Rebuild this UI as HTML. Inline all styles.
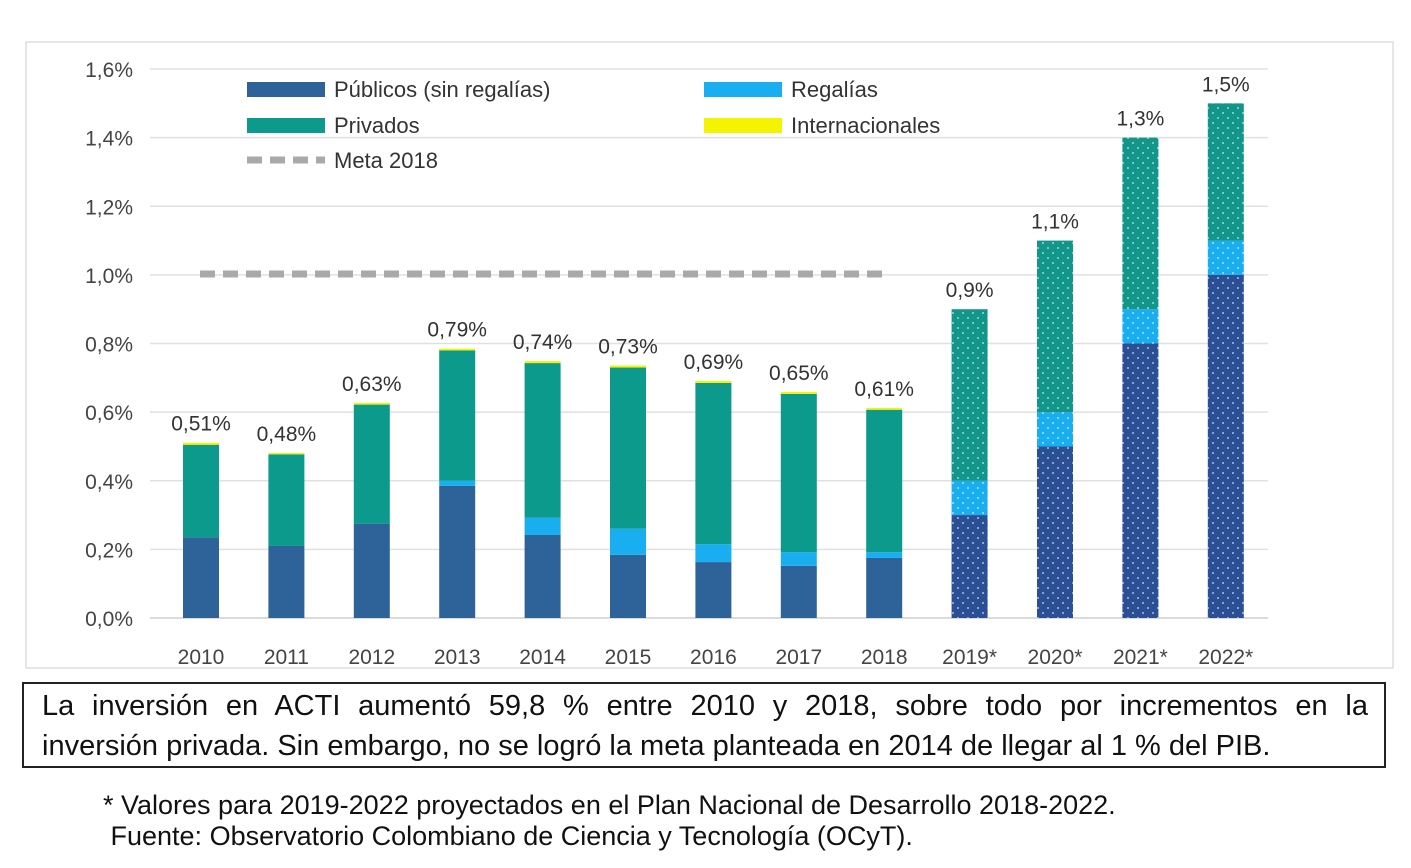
<!DOCTYPE html>
<html><head><meta charset="utf-8"><style>
body{margin:0;background:#fff;width:1411px;height:868px;overflow:hidden;font-family:"Liberation Sans",sans-serif}
svg text{font-family:"Liberation Sans",sans-serif}
.box{position:absolute;left:22px;top:682px;width:1364px;height:86px;border:2px solid #222;box-sizing:border-box;font-size:29px;line-height:40px;padding:2px 16px 0 18px;color:#111;white-space:nowrap}
.box .l1{text-align:justify;text-align-last:justify;white-space:normal}
.foot{position:absolute;left:103px;top:790px;font-size:27px;line-height:31px;color:#111;white-space:nowrap}
</style></head><body>
<svg id="chart" width="1411" height="868" style="position:absolute;left:0;top:0">
<defs><pattern id="dots" width="10" height="10" patternUnits="userSpaceOnUse"><circle cx="3" cy="3" r="0.9" fill="#fff" opacity="0.8"/><circle cx="8" cy="8" r="0.9" fill="#fff" opacity="0.8"/></pattern></defs>
<rect x="26" y="42" width="1367" height="626" fill="none" stroke="#ddd" stroke-width="1.5"/>
<g id="grid"></g><g id="bars"></g><g id="labels"></g>
<line x1="200" y1="274" x2="888" y2="274" stroke="#a9a9a9" stroke-width="7" stroke-dasharray="15,8"/>
<g font-size="22" fill="#333">
<rect x="247" y="82" width="78" height="15" fill="#2e6399"/>
<text x="334" y="97">Públicos (sin regalías)</text>
<rect x="704" y="82" width="78" height="15" fill="#19aef0"/>
<text x="791" y="97">Regalías</text>
<rect x="247" y="118" width="78" height="15" fill="#0c9a8c"/>
<text x="334" y="133">Privados</text>
<rect x="704" y="118" width="78" height="15" fill="#f4f400"/>
<text x="791" y="133">Internacionales</text>
<line x1="247" y1="160" x2="325" y2="160" stroke="#a9a9a9" stroke-width="7" stroke-dasharray="15,8"/>
<text x="334" y="168">Meta 2018</text>
</g>
</svg>
<div class="box"><div class="l1">La inversión en ACTI aumentó 59,8 % entre 2010 y 2018, sobre todo por incrementos en la</div><div>inversión privada. Sin embargo, no se logró la meta planteada en 2014 de llegar al 1 % del PIB.</div></div>
<div class="foot">* Valores para 2019-2022 proyectados en el Plan Nacional de Desarrollo 2018-2022.<br>&nbsp;Fuente: Observatorio Colombiano de Ciencia y Tecnología (OCyT).</div>
<script>
const years=["2010","2011","2012","2013","2014","2015","2016","2017","2018","2019*","2020*","2021*","2022*"];
const publicos=[0.235,0.21,0.275,0.385,0.242,0.184,0.163,0.152,0.175,0.3,0.5,0.8,1.0];
const regalias=[0,0,0,0.015,0.05,0.076,0.052,0.04,0.017,0.1,0.1,0.1,0.1];
const privados=[0.27,0.267,0.347,0.38,0.451,0.47,0.47,0.461,0.415,0.5,0.5,0.5,0.4];
const internacionales=[0.006,0.004,0.005,0.005,0.006,0.006,0.006,0.006,0.005,0,0,0,0];
const totals=["0,51%","0,48%","0,63%","0,79%","0,74%","0,73%","0,69%","0,65%","0,61%","0,9%","1,1%","1,3%","1,5%"];
const ticks=[0,0.2,0.4,0.6,0.8,1.0,1.2,1.4,1.6];
const tickLabels=["0,0%","0,2%","0,4%","0,6%","0,8%","1,0%","1,2%","1,4%","1,6%"];
const NS="http://www.w3.org/2000/svg";
const y=v=>618-v*343.1;
const x=i=>201+i*85.4;
function mk(tag,attrs,parent){const e=document.createElementNS(NS,tag);for(const k in attrs)e.setAttribute(k,attrs[k]);parent.appendChild(e);return e;}
const grid=document.getElementById('grid'),bars=document.getElementById('bars'),labels=document.getElementById('labels');
ticks.forEach((t,i)=>{
  const l=mk('line',{x1:150,x2:1268,y1:y(t),y2:y(t),stroke:i==0?'#cfcfcf':'#e0e0e0','stroke-width':1.5},grid);
  
  
  const tx=mk('text',{x:133,y:y(t)+8,'text-anchor':'end','font-size':21,fill:'#444'},grid);
  tx.textContent=tickLabels[i];
  
  
});
const series=[[publicos,'#2e6399','#2a4f95','publicos'],[regalias,'#19aef0','#19aef0','regalias'],[privados,'#0c9a8c','#13968a','privados'],[internacionales,'#f4f400','#f4f400','internacionales']];
years.forEach((yr,i)=>{
  const proj=yr.includes('*');
  let base=0;
  series.forEach(s=>{
    const v=s[0][i];if(v<=0)return;
    const r=mk('rect',{x:x(i)-18,width:36,y:y(base+v),height:y(base)-y(base+v),fill:proj?s[2]:s[1]},bars);
    
    
    if(proj){const p=mk('rect',{x:x(i)-18,width:36,y:y(base+v),height:y(base)-y(base+v),fill:'url(#dots)'},bars);
      
      }
    base+=v;
  });
  const t=mk('text',{x:x(i),y:y(base)-12,'text-anchor':'middle','font-size':21,fill:'#333'},labels);
  t.textContent=totals[i];
  
  
  const xl=mk('text',{x:x(i),y:664,'text-anchor':'middle','font-size':21,fill:'#444'},labels);
  xl.textContent=yr;
  
  
});
</script>
</body></html>
